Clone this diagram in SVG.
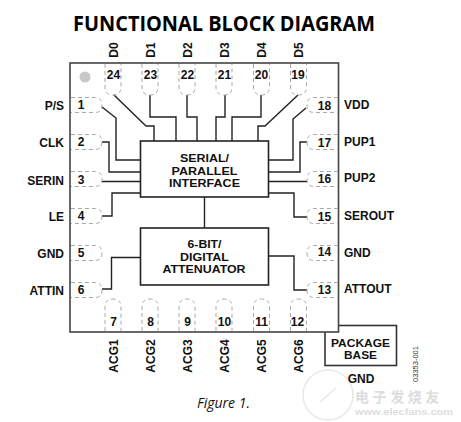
<svg xmlns="http://www.w3.org/2000/svg" width="461" height="422" viewBox="0 0 461 422">
<style>
text{font-family:"Liberation Sans",Arial,sans-serif;font-weight:bold;fill:#111;font-size:12px}
.m{text-anchor:middle}.e{text-anchor:end}
.num{font-size:12px;text-anchor:middle}
.pin{fill:none;stroke:#aaa;stroke-width:1;stroke-dasharray:4 3}
.box{fill:#fff;stroke:#222;stroke-width:1.6}
.w{fill:none;stroke:#222;stroke-width:1.4}
.blk{font-size:11.5px;text-anchor:middle}
</style>
<defs>
<path id="pl" class="pin" d="M71 0H95Q102 0 102 7.500Q102 15 95 15H71"/>
<path id="pr" class="pin" d="M338 0H314Q307 0 307 7.500Q307 15 314 15H338"/>
<path id="pt" class="pin" d="M0 64V87Q0 95 8 95Q16 95 16 87V64"/>
<path id="pb" class="pin" d="M0 331V307Q0 299 8 299Q16 299 16 307V331"/>
</defs>
<rect width="461" height="422" fill="#fff"/>
<text x="73" y="31" textLength="302" lengthAdjust="spacingAndGlyphs" style="font-family:'Open Sans','Liberation Sans',sans-serif;font-size:21px;font-weight:bold;fill:#000">FUNCTIONAL BLOCK DIAGRAM</text>
<g id="watermark"><circle cx="328" cy="395" r="25" fill="none" stroke="#e8e8e8" stroke-width="1.500"/>
<path d="M320 402L336 388" fill="none" stroke="#e8e8e8" stroke-width="1.500"/>
<text x="355" y="402" style="font-family:'Noto Sans CJK SC',sans-serif;font-size:14px;letter-spacing:3.600px;fill:#ddd">电子发烧友</text>
<text x="355" y="415" textLength="98" lengthAdjust="spacingAndGlyphs" style="font-size:9.500px;fill:#ddd">www.elecfans.com</text></g>
<g id="base"><rect x="325" y="325.500" width="71.500" height="40" fill="#fff" stroke="#333" stroke-width="1.600"/>
<text class="blk" x="331" y="347" style="text-anchor:start" textLength="59" lengthAdjust="spacingAndGlyphs">PACKAGE</text><text class="blk" x="344" y="359" style="text-anchor:start" textLength="33" lengthAdjust="spacingAndGlyphs">BASE</text><text class="m" x="361" y="382.500">GND</text></g>
<g id="package"><rect x="70" y="63" width="268.500" height="269" fill="#fff" stroke="#444" stroke-width="1.600"/>
<circle cx="85" cy="77" r="5.500" fill="#c8c8c8"/></g>
<g id="connectors">
<path class="w" d="M114 95L146 126H154V141"/>
<path class="w" d="M150 95V117H176V141"/>
<path class="w" d="M187 95V117H197V141"/>
<path class="w" d="M225 95V117H216V141"/>
<path class="w" d="M261 95V117H232V141"/>
<path class="w" d="M298 95L265 126H258V141"/>
<path class="w" d="M102 107L116 118V160H141"/>
<path class="w" d="M102 142H109V172H141"/>
<path class="w" d="M102 181.500H141"/>
<path class="w" d="M102 216H112V193H141"/>
<path class="w" d="M306 108L293 119V160H268"/>
<path class="w" d="M307 142H300V172H268"/>
<path class="w" d="M307 181.500H268"/>
<path class="w" d="M307 217H294V193H268"/>
<path class="w" d="M204.500 197V228"/>
<path class="w" d="M102 289H111.500V257.500H141"/>
<path class="w" d="M307 290H294V256H268"/>
</g>
<g id="serial"><rect class="box" x="140.500" y="141" width="128" height="56"/>
<text class="blk" x="180" y="162" style="text-anchor:start" textLength="49" lengthAdjust="spacingAndGlyphs">SERIAL/</text><text class="blk" x="171.500" y="174.500" style="text-anchor:start" textLength="66" lengthAdjust="spacingAndGlyphs">PARALLEL</text><text class="blk" x="169" y="187" style="text-anchor:start" textLength="71" lengthAdjust="spacingAndGlyphs">INTERFACE</text></g>
<g id="attenuator"><rect class="box" x="140.500" y="228" width="128" height="57"/>
<text class="blk" x="187.500" y="248" style="text-anchor:start" textLength="34" lengthAdjust="spacingAndGlyphs">6-BIT/</text><text class="blk" x="180" y="260.500" style="text-anchor:start" textLength="49" lengthAdjust="spacingAndGlyphs">DIGITAL</text><text class="blk" x="162.500" y="273" style="text-anchor:start" textLength="83" lengthAdjust="spacingAndGlyphs">ATTENUATOR</text></g>
<g id="pin1"><use href="#pl" y="97.500"/><text class="num" x="81" y="109">1</text><text class="e" x="64" y="110">P/S</text></g>
<g id="pin2"><use href="#pl" y="134.500"/><text class="num" x="81" y="146">2</text><text class="e" x="64" y="147">CLK</text></g>
<g id="pin3"><use href="#pl" y="171.500"/><text class="num" x="81" y="184">3</text><text class="e" x="64" y="185">SERIN</text></g>
<g id="pin4"><use href="#pl" y="208.500"/><text class="num" x="81" y="220">4</text><text class="e" x="64" y="221">LE</text></g>
<g id="pin5"><use href="#pl" y="245.500"/><text class="num" x="81" y="257">5</text><text class="e" x="64" y="258">GND</text></g>
<g id="pin6"><use href="#pl" y="282.500"/><text class="num" x="81" y="294">6</text><text class="e" x="64" y="295">ATTIN</text></g>
<g id="pin18"><use href="#pr" y="97.500"/><text class="num" x="324.500" y="110">18</text><text x="344" y="109">VDD</text></g>
<g id="pin17"><use href="#pr" y="134.500"/><text class="num" x="324.500" y="147">17</text><text x="344" y="146">PUP1</text></g>
<g id="pin16"><use href="#pr" y="171.500"/><text class="num" x="324.500" y="183">16</text><text x="344" y="182">PUP2</text></g>
<g id="pin15"><use href="#pr" y="208.500"/><text class="num" x="324.500" y="221">15</text><text x="344" y="220">SEROUT</text></g>
<g id="pin14"><use href="#pr" y="245.500"/><text class="num" x="324.500" y="256">14</text><text x="344" y="257">GND</text></g>
<g id="pin13"><use href="#pr" y="282.500"/><text class="num" x="324.500" y="294">13</text><text x="344" y="293">ATTOUT</text></g>
<g id="pin24"><use href="#pt" x="105"/><text class="num" x="113.500" y="79">24</text><text class="m" transform="translate(118 50) rotate(-90)">D0</text></g>
<g id="pin23"><use href="#pt" x="142"/><text class="num" x="150.500" y="79">23</text><text class="m" transform="translate(155 50) rotate(-90)">D1</text></g>
<g id="pin22"><use href="#pt" x="179"/><text class="num" x="187.500" y="79">22</text><text class="m" transform="translate(192 50) rotate(-90)">D2</text></g>
<g id="pin21"><use href="#pt" x="216"/><text class="num" x="224.500" y="79">21</text><text class="m" transform="translate(229 50) rotate(-90)">D3</text></g>
<g id="pin20"><use href="#pt" x="253.500"/><text class="num" x="261.500" y="79">20</text><text class="m" transform="translate(266 50) rotate(-90)">D4</text></g>
<g id="pin19"><use href="#pt" x="290.500"/><text class="num" x="298" y="79">19</text><text class="m" transform="translate(303 50) rotate(-90)">D5</text></g>
<g id="pin7"><use href="#pb" x="105"/><text class="num" x="113.500" y="326">7</text><text class="m" transform="translate(118 356) rotate(-90)">ACG1</text></g>
<g id="pin8"><use href="#pb" x="142"/><text class="num" x="150.500" y="326">8</text><text class="m" transform="translate(155 356) rotate(-90)">ACG2</text></g>
<g id="pin9"><use href="#pb" x="179"/><text class="num" x="187.500" y="326">9</text><text class="m" transform="translate(192 356) rotate(-90)">ACG3</text></g>
<g id="pin10"><use href="#pb" x="216"/><text class="num" x="224.500" y="326">10</text><text class="m" transform="translate(229 356) rotate(-90)">ACG4</text></g>
<g id="pin11"><use href="#pb" x="253.500"/><text class="num" x="261.500" y="326">11</text><text class="m" transform="translate(266 356) rotate(-90)">ACG5</text></g>
<g id="pin12"><use href="#pb" x="290.500"/><text class="num" x="297.500" y="326">12</text><text class="m" transform="translate(303 356) rotate(-90)">ACG6</text></g>
<text transform="translate(418 364) rotate(-90)" style="font-size:7.500px;font-weight:normal;fill:#333" class="m">03353-001</text>
<text x="223.500" y="408" class="m" style="font-family:'Open Sans','Liberation Sans',sans-serif;font-size:14px;font-weight:normal;font-style:italic">Figure 1.</text>
</svg>
